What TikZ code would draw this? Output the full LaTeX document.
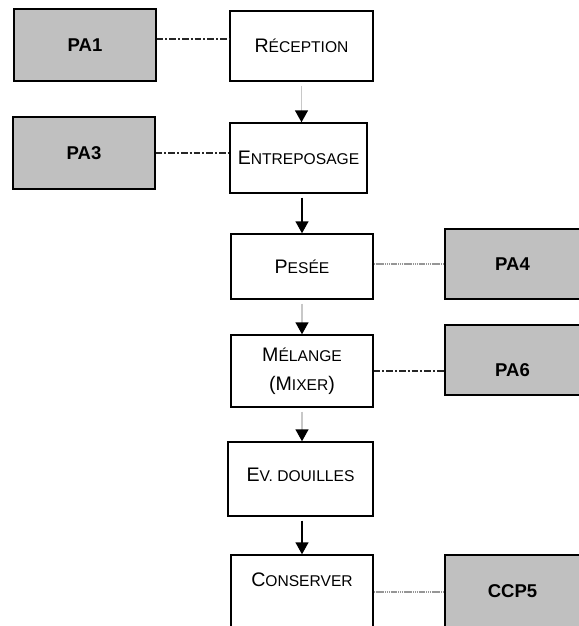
\documentclass[tikz,border=0pt]{standalone}
\usepackage{fontspec}
\setmainfont{Liberation Sans}
\usetikzlibrary{arrows.meta}

% hand-made small capitals: first letter large, the rest smaller capitals
\newcommand\fsc[2]{{\fontsize{14.7pt}{17pt}\selectfont #1}{\fontsize{11.7pt}{14pt}\selectfont #2}}
\newcommand\bigc[1]{{\fontsize{14.7pt}{17pt}\selectfont #1}}
\newcommand\smallc[1]{{\fontsize{11.7pt}{14pt}\selectfont #1}}
% move a label up or down inside its box without changing the box
\newcommand\lift[2]{\raisebox{#1}[\height][\depth]{#2}}

\definecolor{paGray}{RGB}{192,192,192}
\definecolor{lightline}{RGB}{200,200,200}
\definecolor{dotline}{RGB}{150,150,150}

\begin{document}
\begin{tikzpicture}[x=0.75pt,y=-0.75pt,
  stepbox/.style={draw=black, line width=1.1pt, fill=white, inner sep=0pt,
    align=center, minimum width=106.5pt},
  pabox/.style={draw=black, line width=1.1pt, fill=paGray, inner sep=0pt,
    font=\bfseries\fontsize{13.9pt}{16pt}\selectfont},
  flow/.style={line width=1.1pt, shorten <=3pt,
    -{Triangle[width=9.75pt,length=9pt,color=black,fill=black]}},
  dashdotlink/.style={line width=0.9pt, draw=black!85,
    dash pattern=on 5pt off 1.5pt on 1.5pt off 1.5pt},
  dotlink/.style={line width=1pt, draw=dotline, dash pattern=on 1pt off 0.4pt},
]
\useasboundingbox (0,0) rectangle (579,626);
\clip (0,0) rectangle (579,626);

% process steps
\node[stepbox, minimum width=107.25pt, minimum height=52.5pt] (rec) at (301.5,46) {\fsc{R}{ÉCEPTION}};
\node[stepbox, minimum width=102.75pt, minimum height=52.5pt] (ent) at (298.5,158) {\fsc{E}{NTREPOSAGE}};
\node[stepbox, minimum height=48.75pt] (pes) at (302,266.5) {\fsc{P}{ESÉE}};
\node[stepbox, minimum height=54pt] (mel) at (302,371)
  {\fsc{M}{ÉLANGE}\\[10pt]\bigc{(M}\smallc{IXER}\bigc{)}};
\node[stepbox, minimum width=108.75pt, minimum height=55.5pt] (ev) at (300.5,479) {\lift{3pt}{\fsc{E}{V. DOUILLES}}};
\node[stepbox, minimum height=71.25pt] (con) at (302,602.5) {\lift{16.9pt}{\fsc{C}{ONSERVER}}};

% control points
\node[pabox, minimum width=106.5pt, minimum height=54pt] (pa1) at (85,45) {PA1};
\node[pabox, minimum width=106.5pt, minimum height=54pt] (pa3) at (84,153) {PA3};
\node[pabox, minimum width=101.25pt, minimum height=52.5pt] (pa4) at (512.5,264) {\lift{0pt}{PA4}};
\node[pabox, minimum width=101.25pt, minimum height=52.5pt] (pa6) at (512.5,360) {\lift{-7.5pt}{PA6}};
\node[pabox, minimum width=101.25pt, minimum height=71.25pt] (ccp) at (512.5,602.5) {\lift{8.6pt}{CCP5}};

% flow between steps
\draw[flow, draw=lightline] (rec.south) -- (rec.south |- ent.north);
\draw[flow, draw=black] (pes.north |- ent.south) -- (pes.north);
\draw[flow, draw=lightline] (pes.south) -- (mel.north);
\draw[flow, draw=lightline] (mel.south) -- (mel.south |- ev.north);
\draw[flow, draw=black] (con.north |- ev.south) -- (con.north);

% links to control points
\draw[dashdotlink] ([yshift=4.5pt]pa1.east) -- ([yshift=4.5pt]pa1.east -| rec.west);
\draw[dashdotlink] (pa3.east) -- (pa3.east -| ent.west);
\draw[dotlink] (pes.east |- pa4.west) -- (pa4.west);
\draw[dashdotlink] (mel.east) -- (mel.east -| pa6.west);
\draw[dotlink] ([yshift=7.9pt]ccp.west -| con.east) -- ([yshift=7.9pt]ccp.west);
\end{tikzpicture}
\end{document}
